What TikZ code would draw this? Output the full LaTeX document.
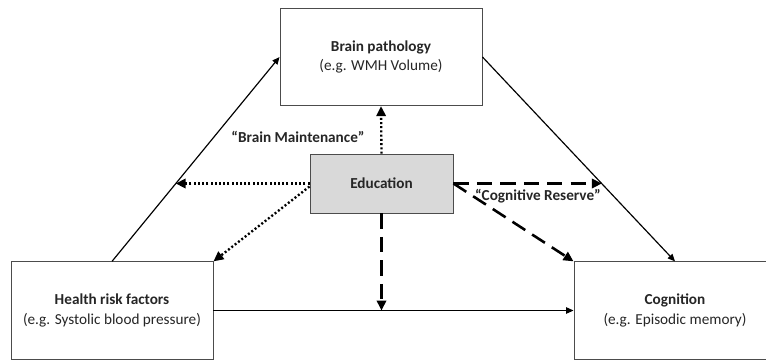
\documentclass[tikz,border=0pt]{standalone}
\usepackage{fontspec}
\setmainfont{Carlito}
\usetikzlibrary{arrows.meta}

\begin{document}
\begin{tikzpicture}[x=0.03cm, y=-0.03cm,
    box/.style={draw=black!70, line width=0.8pt, minimum width=6.06cm, minimum height=2.92cm,
        align=center, text=black!85, font=\fontsize{13}{16.5}\selectfont},
    edubox/.style={box, fill=black!15, minimum width=4.29cm, minimum height=1.77cm},
    lbl/.style={text=black!85, font=\fontsize{13}{16.5}\selectfont\bfseries},
    solidarrow/.style={-{Triangle[length=0.22cm, width=0.19cm]}, line width=1pt},
    dotarrow/.style={-{Triangle[length=0.3cm, width=0.28cm]}, line width=2pt,
        dash pattern=on 1.7pt off 1.9pt},
    dasharrow/.style={-{Triangle[length=0.3cm, width=0.28cm]}, line width=2.2pt,
        dash pattern=on 13pt off 7pt}]
    \clip (0,0) rectangle (766,360);
    \fill[white] (0,0) rectangle (766,360);

    % boxes
    \node[box] (brain) at (381,57) {\textbf{Brain pathology}\\(e.g. WMH Volume)};
    \node[box] (health) at (112,310.5) {\textbf{Health risk factors}\\(e.g. Systolic blood pressure)};
    \node[box] (cog) at (675,310.5) {\textbf{Cognition}\\(e.g. Episodic memory)};
    \node[edubox] (edu) at (381.5,183.5) {\textbf{Education}};

    % solid paths
    \draw[solidarrow] (health.north) -- coordinate[pos=0.38] (hbmid) (brain.west);
    \draw[solidarrow] (brain.east) -- coordinate[pos=0.62] (bcmid) (cog.north);
    \draw[solidarrow] (health.east) -- (cog.west);

    % brain maintenance
    \draw[dotarrow] (edu.north) -- (brain.south);
    \draw[dotarrow] (edu.west) -- (edu.west -| hbmid);
    \draw[dotarrow] ([yshift=-0.09cm]edu.west) -- (health.north east);

    % cognitive reserve
    \draw[dasharrow] (edu.east) -- (edu.east -| bcmid);
    \draw[dasharrow] (edu.east) -- (cog.north west);
    \draw[dasharrow] (edu.south) -- (edu.south |- health.east);

    \node[lbl] (bmlabel) at (298,137) {“Brain Maintenance”};
    \node[lbl] (crlabel) at (538,196) {“Cognitive Reserve”};
\end{tikzpicture}
\end{document}
